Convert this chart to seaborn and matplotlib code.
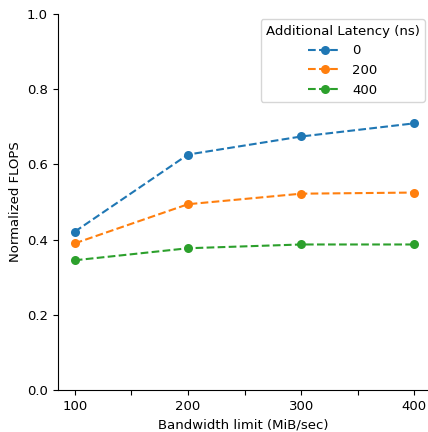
import matplotlib
matplotlib.use("Agg")
import matplotlib.pyplot as plt
import seaborn as sns
import pandas as pd

bandwidth = [100, 200, 300, 400]
latencies = ["0", "200", "400"]
flops_0 = [0.421, 0.626, 0.674, 0.709]
flops_200 = [0.390, 0.494, 0.522, 0.525]
flops_400 = [0.345, 0.377, 0.387, 0.387]

rows = []
for lat, vals in zip(latencies, [flops_0, flops_200, flops_400]):
    for b, v in zip(bandwidth, vals):
        rows.append({"Bandwidth limit (MiB/sec)": b, "Normalized FLOPS": v,
                     "Additional Latency (ns)": lat})
df = pd.DataFrame(rows)

plt.rcParams['font.family'] = ['DejaVu Sans']
plt.rcParams['font.size'] = 9.55
fig, ax = plt.subplots(figsize=(4.28, 4.32), dpi=100)
palette = ["#1f77b4", "#ff7f0e", "#2ca02c"]
sns.lineplot(data=df, x="Bandwidth limit (MiB/sec)", y="Normalized FLOPS",
             hue="Additional Latency (ns)", palette=palette, marker="o",
             markersize=6.5, markeredgewidth=0, linestyle="--", ax=ax)
for line in ax.get_lines():
    line.set_linestyle("--")
ax.set_ylim(0, 1.0)
ax.set_xlim(85, 412)
ax.set_xticks([100, 150, 200, 250, 300, 350, 400])
ax.set_xticklabels(["100", "", "200", "", "300", "", "400"])
sns.despine(ax=ax)
leg = ax.legend(title="Additional Latency (ns)", loc="upper right",
                labelspacing=0.5, handlelength=2.5,
                bbox_to_anchor=(0.992, 0.985), borderaxespad=0)
for h in leg.legend_handles:
    h.set_linestyle("--")
fig.subplots_adjust(left=0.135, right=1.0, top=0.968, bottom=0.097)
fig.savefig("out.png", dpi=100)
